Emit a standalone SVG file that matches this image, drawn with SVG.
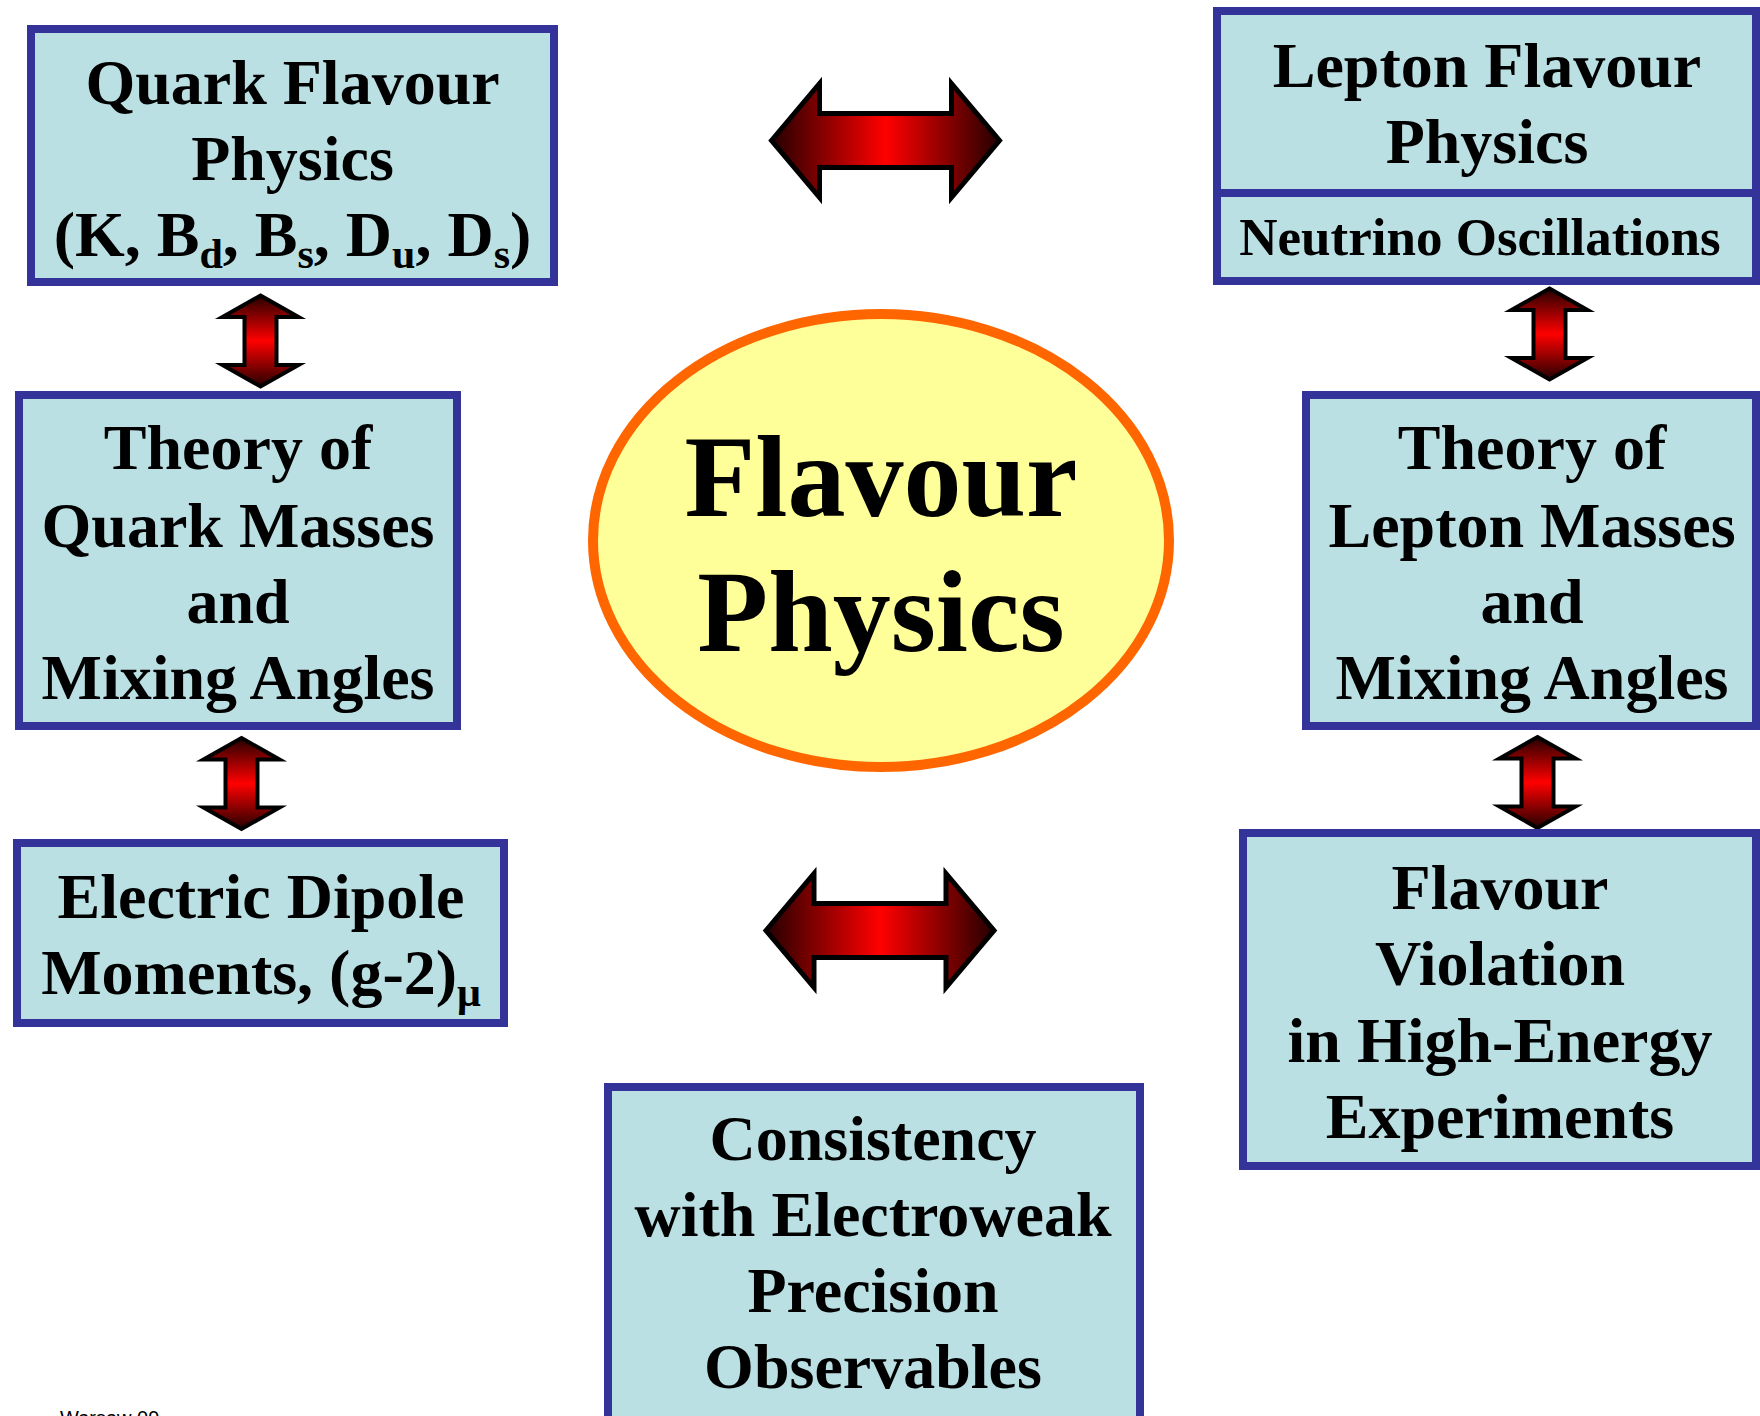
<svg xmlns="http://www.w3.org/2000/svg" width="1760" height="1416" viewBox="0 0 1760 1416">
<style>
.box{fill:#BBE0E3;stroke:#333399;stroke-width:8}
.t{font-family:"Liberation Serif","Times New Roman",serif;font-weight:bold;font-size:64px;fill:#000;text-anchor:middle}
.s{font-size:53px}
.big{font-size:116px}
.sub{font-size:42px}
.arrH{fill:url(#gH);stroke:#000;stroke-width:5;stroke-linejoin:miter}
.arrV{fill:url(#gV);stroke:#000;stroke-width:4;stroke-linejoin:miter}
.foot{font-family:"Liberation Sans",Arial,sans-serif;font-size:20px;fill:#000}
</style>
<defs>
<linearGradient id="gH" x1="0" y1="0" x2="1" y2="0">
<stop offset="0" stop-color="#240000"/>
<stop offset="0.5" stop-color="#FF0000"/>
<stop offset="1" stop-color="#240000"/>
</linearGradient>
<linearGradient id="gV" x1="0" y1="0" x2="0" y2="1">
<stop offset="0" stop-color="#240000"/>
<stop offset="0.5" stop-color="#FF0000"/>
<stop offset="1" stop-color="#240000"/>
</linearGradient>
<path id="ah" d="M-114,0 L-66,-57 L-66,-27 L66,-27 L66,-57 L114,0 L66,57 L66,27 L-66,27 L-66,57 Z"/>
<path id="av" d="M0,-45.5 L38,-24 L16,-24 L16,24 L38,24 L0,45.5 L-38,24 L-16,24 L-16,-24 L-38,-24 Z"/>
</defs>
<rect width="1760" height="1416" fill="#FFFFFF"/>

<g id="connectors">
<path class="arrH" transform="translate(885.5,140.5)" d="M-114,0 L-66,-57 L-66,-27 L66,-27 L66,-57 L114,0 L66,57 L66,27 L-66,27 L-66,57 Z"/>
<path class="arrH" transform="translate(880,930.5)" d="M-114,0 L-66,-57 L-66,-27 L66,-27 L66,-57 L114,0 L66,57 L66,27 L-66,27 L-66,57 Z"/>
<path class="arrV" transform="translate(260.5,341)" d="M0,-45.5 L38,-24 L16,-24 L16,24 L38,24 L0,45.5 L-38,24 L-16,24 L-16,-24 L-38,-24 Z"/>
<path class="arrV" transform="translate(241.5,783.5)" d="M0,-45.5 L38,-24 L16,-24 L16,24 L38,24 L0,45.5 L-38,24 L-16,24 L-16,-24 L-38,-24 Z"/>
<path class="arrV" transform="translate(1549.5,334)" d="M0,-45.5 L38,-24 L16,-24 L16,24 L38,24 L0,45.5 L-38,24 L-16,24 L-16,-24 L-38,-24 Z"/>
<path class="arrV" transform="translate(1537.5,782.5)" d="M0,-45.5 L38,-24 L16,-24 L16,24 L38,24 L0,45.5 L-38,24 L-16,24 L-16,-24 L-38,-24 Z"/>
</g>

<g id="quark-flavour">
<rect class="box" x="31" y="29" width="523" height="253"/>
<text class="t" x="292.5" y="104">Quark Flavour</text>
<text class="t" x="292.5" y="180">Physics</text>
<text class="t" x="292.5" y="256">(K, B<tspan class="sub" dy="12">d</tspan><tspan dy="-12">, B</tspan><tspan class="sub" dy="12">s</tspan><tspan dy="-12">, D</tspan><tspan class="sub" dy="12">u</tspan><tspan dy="-12">, D</tspan><tspan class="sub" dy="12">s</tspan><tspan dy="-12">)</tspan></text>
</g>

<g id="theory-quark">
<rect class="box" x="19" y="395" width="438" height="331"/>
<text class="t" x="238" y="469">Theory of</text>
<text class="t" x="238" y="547">Quark Masses</text>
<text class="t" x="238" y="623">and</text>
<text class="t" x="238" y="699">Mixing Angles</text>
</g>

<g id="edm">
<rect class="box" x="17" y="843" width="487" height="180"/>
<text class="t" x="261" y="918">Electric Dipole</text>
<text class="t" x="261" y="994">Moments, (g-2)<tspan class="sub" dy="12">μ</tspan></text>
</g>

<g id="flavour-physics">
<ellipse cx="881" cy="540.5" rx="288" ry="226.5" fill="#FFFF99" stroke="#FF6600" stroke-width="10"/>
<text class="t big" x="881" y="516">Flavour</text>
<text class="t big" x="881" y="651">Physics</text>
</g>

<g id="lepton-flavour">
<rect class="box" x="1217" y="11" width="539" height="270"/>
<line x1="1217" y1="193" x2="1756" y2="193" stroke="#333399" stroke-width="8"/>
<text class="t" x="1487" y="87">Lepton Flavour</text>
<text class="t" x="1487" y="163">Physics</text>
<text class="t s" x="1480" y="255">Neutrino Oscillations</text>
</g>

<g id="theory-lepton">
<rect class="box" x="1306" y="395" width="450" height="331"/>
<text class="t" x="1532" y="469">Theory of</text>
<text class="t" x="1532" y="547">Lepton Masses</text>
<text class="t" x="1532" y="623">and</text>
<text class="t" x="1532" y="699">Mixing Angles</text>
</g>

<g id="flavour-violation">
<rect class="box" x="1243" y="833" width="513" height="333"/>
<text class="t" x="1500" y="909">Flavour</text>
<text class="t" x="1500" y="985">Violation</text>
<text class="t" x="1500" y="1062">in High-Energy</text>
<text class="t" x="1500" y="1138">Experiments</text>
</g>

<g id="consistency">
<rect class="box" x="608" y="1087" width="532" height="360"/>
<text class="t" x="873" y="1160">Consistency</text>
<text class="t" x="873" y="1236">with Electroweak</text>
<text class="t" x="873" y="1312">Precision</text>
<text class="t" x="873" y="1388">Observables</text>
</g>

<text class="foot" x="60" y="1425">Warsaw 09</text>
</svg>
